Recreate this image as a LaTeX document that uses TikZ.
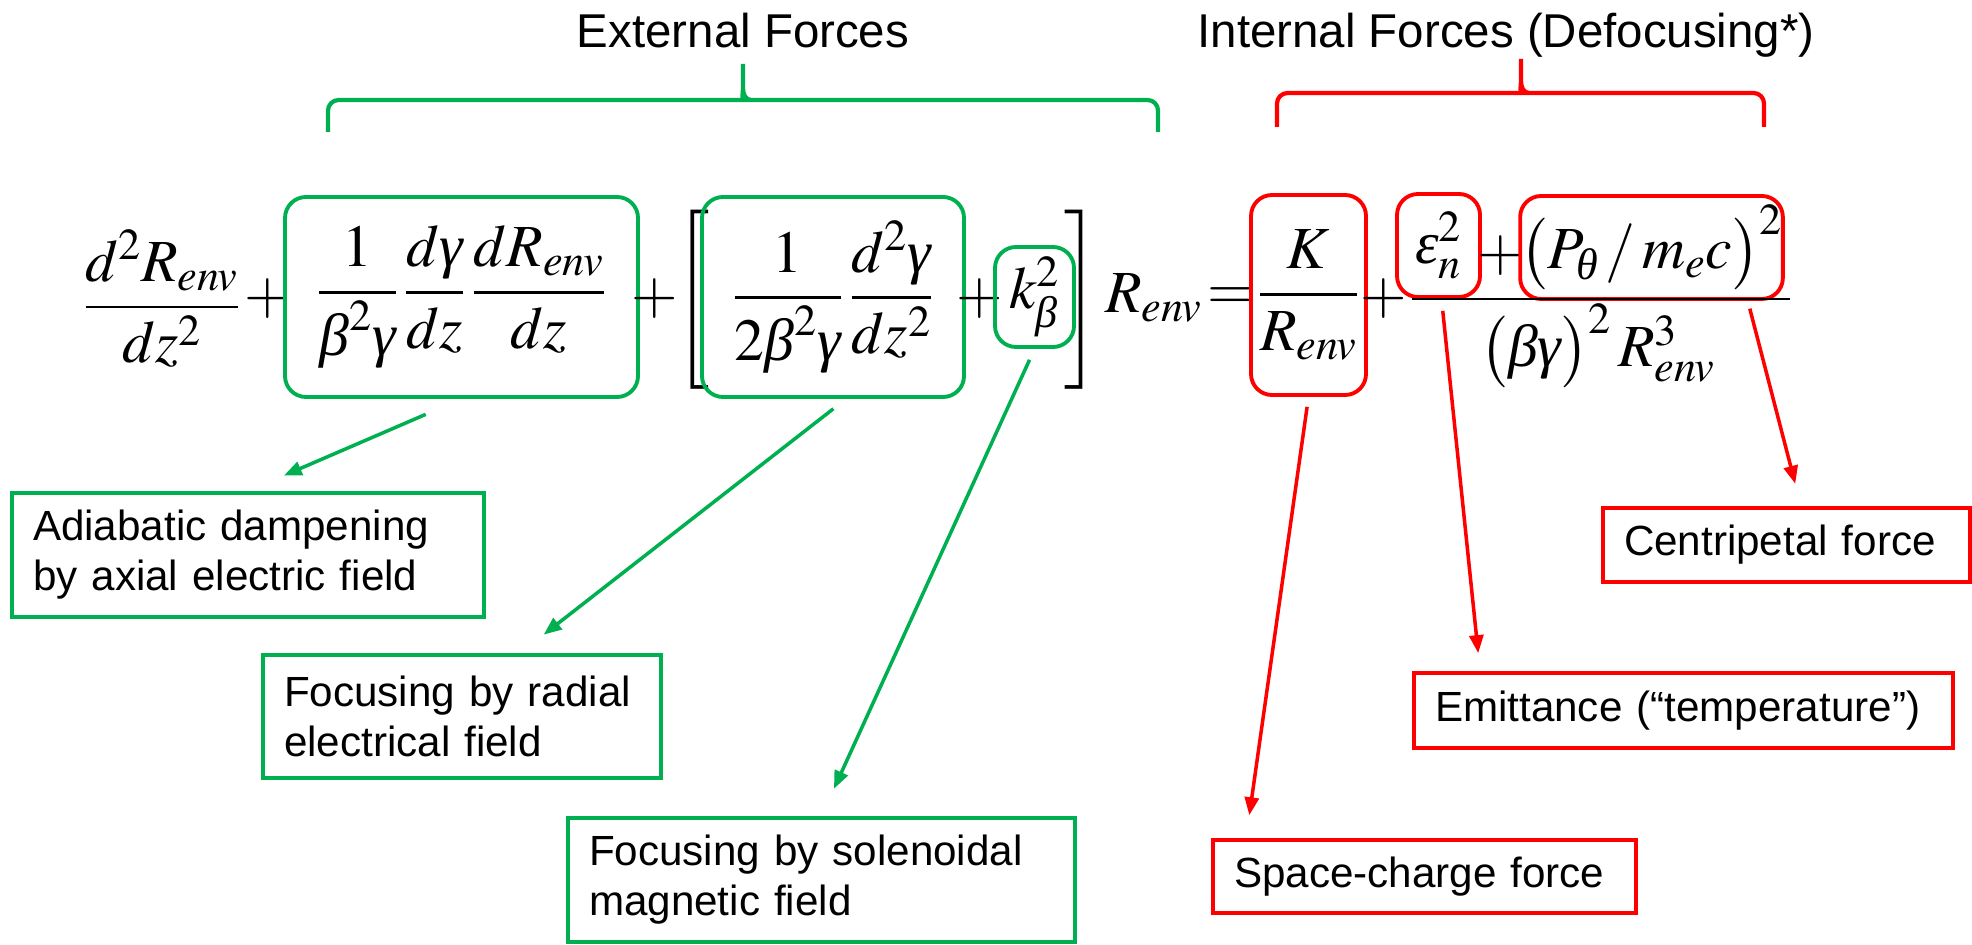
\documentclass[tikz,border=0pt]{standalone}
\usepackage{amsmath}
\usepackage{mathptmx}
\usepackage[no-math]{fontspec}
\setsansfont{Liberation Sans}
\newfontfamily\greekit{Liberation Serif}
\newcommand{\gbeta}{\text{\greekit\itshape β}}
\newcommand{\ggamma}{\text{\greekit\itshape γ}}
\newcommand{\gtheta}{\text{\greekit\itshape θ}}
\newcommand{\geps}{\text{\greekit\itshape ε}}
\usepackage{tikz}
\usetikzlibrary{arrows.meta}
\definecolor{extgreen}{RGB}{0,176,80}
\definecolor{intred}{RGB}{255,0,0}
\tikzset{
  head/.style={inner sep=0pt,font=\fontsize{27}{32}\selectfont\sffamily},
  sym/.style={inner sep=0pt,font=\fontsize{34}{40}\selectfont},
  term/.style={rectangle,rounded corners=0.42cm,line width=2.2pt,inner sep=0pt,
    font=\fontsize{34}{40}\selectfont},
  gterm/.style={term,draw=extgreen},
  rterm/.style={term,draw=intred},
  lbl/.style={rectangle,line width=2.2pt,text width=#1,align=left,inner xsep=0.42cm,
    font=\fontsize{24}{28.5}\selectfont\sffamily},
  glbl/.style={lbl=#1,draw=extgreen},
  rlbl/.style={lbl=#1,draw=intred},
  garr/.style={-{Triangle[length=0.36cm,width=0.28cm]},line width=2pt,color=extgreen},
  rarr/.style={-{Triangle[length=0.36cm,width=0.28cm]},line width=2pt,color=intred},
  brace/.style={line width=2.4pt,rounded corners=6pt}
}
\begin{document}
\begin{tikzpicture}
    \useasboundingbox (0,0) rectangle (39.44,18.88);

    % Headings
    \node[head,anchor=base] (exthead) at (14.86,17.92) {External Forces};
    \node[head,anchor=base] (inthead) at (30.12,17.92) {Internal Forces (Defocusing*)};

    % Braces
    \draw[brace,extgreen] (6.56,16.24) -- (6.56,16.88) -- (14.70,16.88) [sharp corners]
      to[out=0,in=-90] (14.86,17.12) -- (14.86,17.60) -- (14.86,17.12) to[out=-90,in=180] (15.02,16.88)
      [rounded corners=6pt] -- (23.16,16.88) -- (23.16,16.24);
    \draw[brace,intred] (25.54,16.34) -- (25.54,17.02) -- (30.26,17.02) [sharp corners]
      to[out=0,in=-90] (30.42,17.26) -- (30.42,17.70) -- (30.42,17.26) to[out=-90,in=180] (30.58,17.02)
      [rounded corners=6pt] -- (35.28,17.02) -- (35.28,16.34);

    % Envelope equation
    \node[sym] (lhs) at (3.24,12.90) {$\dfrac{d^2R_{env}}{dz^2}$};
    \node[sym] (p1) at (5.36,12.90) {$+$};
    \node[gterm,minimum width=7.06cm,minimum height=4cm] (t1) at (9.23,12.94)
      {$\dfrac{1}{\gbeta^2\ggamma}\,\dfrac{d\ggamma}{dz}\,\dfrac{dR_{env}}{dz}$};
    \node[sym] (p2) at (13.10,12.90) {$+$};
    \node[sym] (lb) at (13.86,12.88) {$\left[\rule[-1.15em]{0pt}{2.8em}\right.$};
    \node[gterm,minimum width=5.24cm,minimum height=4cm] (t2) at (16.66,12.94)
      {$\dfrac{1}{2\gbeta^2\ggamma}\,\dfrac{d^2\ggamma}{dz^2}$};
    \node[sym] (p3) at (19.60,12.90) {$+$};
    \node[gterm,minimum width=1.58cm,minimum height=2cm] (t3) at (20.69,12.94) {$k_{\gbeta}^2$};
    \node[sym] (rb) at (21.62,12.88) {$\left.\rule[-1.15em]{0pt}{2.8em}\right]$};
    \node[sym,anchor=base west] (renv) at (22.10,12.62) {$R_{env}$};
    \node[sym,anchor=west] (eq) at (24.14,12.90) {$=$};
    \node[rterm,minimum width=2.30cm,minimum height=4cm] (t4) at (26.17,12.98) {$\dfrac{K}{R_{env}}$};
    \node[sym] (p4) at (27.68,12.90) {$+$};
    \node[rterm,minimum width=1.66cm,minimum height=2.06cm] (t5) at (28.77,13.97) {$\geps_n^2$};
    \node[sym] (p5) at (30.02,13.76) {$+$};
    \node[rterm,minimum width=5.22cm,minimum height=2.06cm] (t6) at (33.03,13.93)
      {$\bigl(P_{\gtheta}\,/\,m_e c\bigr)^2$};
    \draw[line width=1.4pt] (28.24,12.90) -- (35.80,12.90);
    \node[sym,anchor=base] (den) at (31.96,11.54) {$\bigl(\gbeta\ggamma\bigr)^2\,R_{env}^3$};

    % External force labels
    \node[glbl=8.60cm,minimum height=2.48cm] (adia) at (4.96,7.78) {Adiabatic dampening\\by axial electric field};
    \node[glbl=7.12cm,minimum height=2.46cm] (radial) at (9.24,4.55) {Focusing by radial\\electrical field};
    \node[glbl=9.30cm,minimum height=2.48cm] (sol) at (16.43,1.28) {Focusing by solenoidal\\magnetic field};

    % Internal force labels
    \node[rlbl=6.50cm,minimum height=1.48cm] (cent) at (35.73,7.98) {Centripetal force};
    \node[rlbl=9.94cm,minimum height=1.50cm] (emit) at (33.67,4.67) {Emittance (“temperature”)};
    \node[rlbl=7.62cm,minimum height=1.46cm] (sc) at (28.49,1.35) {Space-charge force};

    % Arrows
    \draw[garr,shorten <=0.78cm,shorten >=0.78cm] (t1.south) -- (adia.north);
    \draw[garr,shorten <=0.32cm,shorten >=0.6cm] ([xshift=0.26cm]t2.south) -- ([xshift=1.16cm]radial.north);
    \draw[garr,shorten <=0.24cm,shorten >=0.6cm] (t3.south) -- (sol.north);
    \draw[rarr,shorten <=0.2cm,shorten >=0.46cm] (t4.south) -- ([xshift=0.7cm]sc.north west);
    \draw[rarr,shorten <=0.24cm,shorten >=0.36cm] ([xshift=0.06cm]t5.south) -- ([xshift=1.36cm]emit.north west);
    \draw[rarr,shorten <=0.16cm,shorten >=0.46cm] ([xshift=-0.74cm]t6.south east) -- ([xshift=0.29cm]cent.north);
  \end{tikzpicture}
\end{document}
